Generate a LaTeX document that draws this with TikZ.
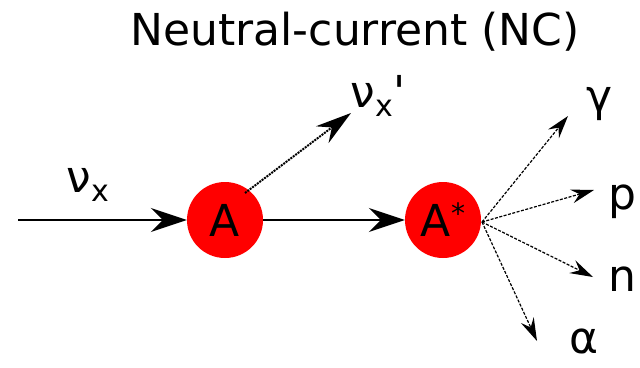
\documentclass[tikz,border=0pt]{standalone}
\usepackage{fontspec}
\setmainfont{DejaVu Sans}
\usetikzlibrary{arrows.meta}
\newcommand{\lowx}{\raisebox{-0.22em}{\fontsize{30}{30}\selectfont x}}
\newcommand{\upstar}{\raisebox{0.3em}{\fontsize{28}{28}\selectfont *}}

\begin{document}
\begin{tikzpicture}[x=1pt,y=-1pt,
  nucleus/.style={circle,fill=red,minimum size=76pt,inner sep=0pt},
  lbl/.style={inner sep=0pt},
  beam/.style={line width=2pt,-{Stealth[length=36pt,width=24pt,inset=12pt]}},
  recoil/.style={line width=2pt,densely dotted,-{Stealth[length=36pt,width=21pt,inset=12pt]}},
  decay/.style={line width=1.2pt,dash pattern=on 3pt off 1.5pt,-{Stealth[length=23pt,width=14pt,inset=8pt]}}]
\useasboundingbox (0,0) rectangle (640,367);
\fontsize{44}{50}\selectfont

\node[lbl] (title) at (355,32) {Neutral-current (NC)};

\node[nucleus] (A) at (225,220) {A};
\node[nucleus] (Astar) at (443,220) {A\upstar};

\coordinate (in) at (18,220);
\node[lbl] (nu) at (88,185) {ν\lowx};
\node[lbl] (nup) at (378,96) {ν\lowx\textquotesingle};

\coordinate (recA) at (245,193);
\coordinate (recB) at (351,113);
\coordinate (out) at (482,222);
\coordinate (gtip) at (568,116);
\coordinate (ptip) at (594,190);
\coordinate (ntip) at (593,277);
\coordinate (atip) at (537,341);

\node[lbl] (gamma) at (600,104) {γ};
\node[lbl] (p) at (622,202) {p};
\node[lbl] (n) at (622,279) {n};
\node[lbl,anchor=base] (alpha) at (584,353) {α};

\draw[beam] (in) -- (A.west);
\draw[beam] (A.east) -- (Astar.west);
\draw[recoil] (recA) -- (recB);
\foreach \t in {gtip,ptip,ntip,atip} \draw[decay] (out) -- (\t);
\end{tikzpicture}
\end{document}
